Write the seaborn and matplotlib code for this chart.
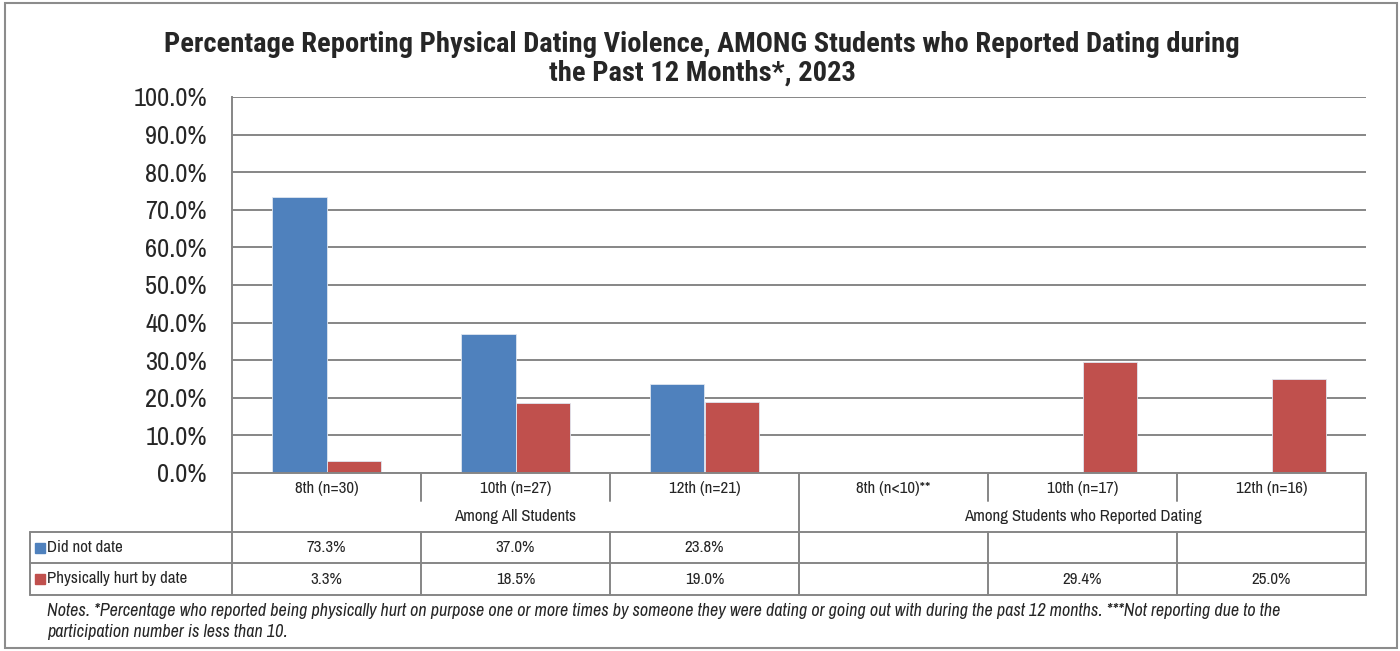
import numpy as np
import pandas as pd
import matplotlib
matplotlib.use("Agg")
import matplotlib.pyplot as plt
import matplotlib.transforms as mtransforms
from matplotlib.patches import Rectangle
import seaborn as sns

# -------------------------
# Data
# -------------------------
categories = ["8th (n=30)", "10th (n=27)", "12th (n=21)",
              "8th (n<10)**", "10th (n=17)", "12th (n=16)"]
groups = ["Among All Students", "Among Students who Reported Dating"]
group_size = [3, 3]
series = ["Did not date", "Physically hurt by date"]
did_not_date = [73.3, 37.0, 23.8, np.nan, np.nan, np.nan]
hurt_by_date = [3.3, 18.5, 19.0, np.nan, 29.4, 25.0]
colors = ["#4F81BD", "#C0504D"]

title = ("Percentage Reporting Physical Dating Violence, AMONG Students who Reported Dating during\n"
         "the Past 12 Months*, 2023")
notes = ("Notes. *Percentage who reported being physically hurt on purpose one or more times by someone "
         "they were dating or going out with during the past 12 months. ***Not reporting due to the\n"
         "participation number is less than 10.")

df = pd.DataFrame({
    "grade": categories * 2,
    "series": [series[0]] * 6 + [series[1]] * 6,
    "value": did_not_date + hurt_by_date,
})
plot_df = df.dropna()

# -------------------------
# Figure
# -------------------------
sns.set_style("white")
plt.rcParams["font.family"] = ["Archivo Narrow", "Roboto Condensed", "DejaVu Sans"]
title_font = ["Roboto Condensed", "DejaVu Sans"]
fs = 12.2

W, H = 1400, 651
fig = plt.figure(figsize=(W / 100, H / 100), dpi=100)
ax = fig.add_axes([232 / W, 1 - 473 / H, (1366 - 232) / W, (473 - 97) / H])

sns.barplot(data=plot_df, x="grade", y="value", hue="series",
            order=categories, hue_order=series, palette=colors,
            width=0.572, saturation=1, errorbar=None,
            edgecolor="#dfe6f0", linewidth=0.6, ax=ax, legend=False)

grid_c = "#868686"
ax.set_xlim(-0.5, 5.5)
ax.set_ylim(0, 100)
ax.set_yticks(np.arange(0, 101, 10))
ax.set_yticklabels([f"{v:.1f}%" for v in np.arange(0, 101, 10)], fontsize=19)
ax.yaxis.grid(True, color=grid_c, linewidth=1.4)
ax.set_axisbelow(True)
ax.tick_params(axis="y", length=0, pad=18)
ax.tick_params(axis="x", length=0, pad=6, labelsize=fs)
ax.set_xlabel("")
ax.set_ylabel("")
for s in ["top", "right"]:
    ax.spines[s].set_visible(False)
for s in ["left", "bottom"]:
    ax.spines[s].set_color(grid_c)
    ax.spines[s].set_linewidth(1.4)

# -------------------------
# Multi-level axis and data table
# -------------------------
trans = mtransforms.blended_transform_factory(ax.transData, fig.transFigure)
fy = lambda py: 1 - py / H
lkw = dict(color=grid_c, linewidth=1.4, transform=trans, clip_on=False)
x_left = -0.5 - (232 - 30) / 189

# category tick separators
for i in range(1, 6):
    if i == 3:
        continue
    ax.plot([i - 0.5, i - 0.5], [fy(473), fy(501)], **lkw)
# group separators (full height)
for xe in [-0.5, 2.5, 5.5]:
    ax.plot([xe, xe], [fy(473), fy(595)], **lkw)
# group labels
start = 0
for g, n in zip(groups, group_size):
    ax.text(start - 0.5 + n / 2, fy(517), g, transform=trans, ha="center",
            va="center", fontsize=fs)
    start += n

# table lines
for yy in [532, 563, 595]:
    ax.plot([x_left, 5.5], [fy(yy), fy(yy)], **lkw)
ax.plot([x_left, x_left], [fy(532), fy(595)], **lkw)
for i in range(1, 6):
    ax.plot([i - 0.5, i - 0.5], [fy(532), fy(595)], **lkw)

row_y = [547.5, 579]
for r, (name, vals) in enumerate(zip(series, [did_not_date, hurt_by_date])):
    fig.add_artist(Rectangle((35 / W, fy(row_y[r] + 5)), 10 / W, 10 / H,
                             transform=fig.transFigure, color=colors[r]))
    fig.text(47 / W, fy(row_y[r]), name, ha="left", va="center", fontsize=fs)
    for i, v in enumerate(vals):
        if not np.isnan(v):
            ax.text(i, fy(row_y[r]), f"{v:.1f}%", transform=trans,
                    ha="center", va="center", fontsize=fs)

# title, notes, frame
fig.text(702 / W, fy(59), title, ha="center", va="center", fontsize=20.5,
         fontweight="bold", linespacing=1.1, family=title_font)
fig.text(47 / W, fy(621.5), notes, ha="left", va="center", fontsize=13,
         style="italic", linespacing=1.35)
fig.add_artist(Rectangle((5 / W, fy(648)), 1392 / W, 645 / H, transform=fig.transFigure,
                         fill=False, edgecolor="#8c8c8c", linewidth=1.5))

fig.savefig("out.png", dpi=100)
